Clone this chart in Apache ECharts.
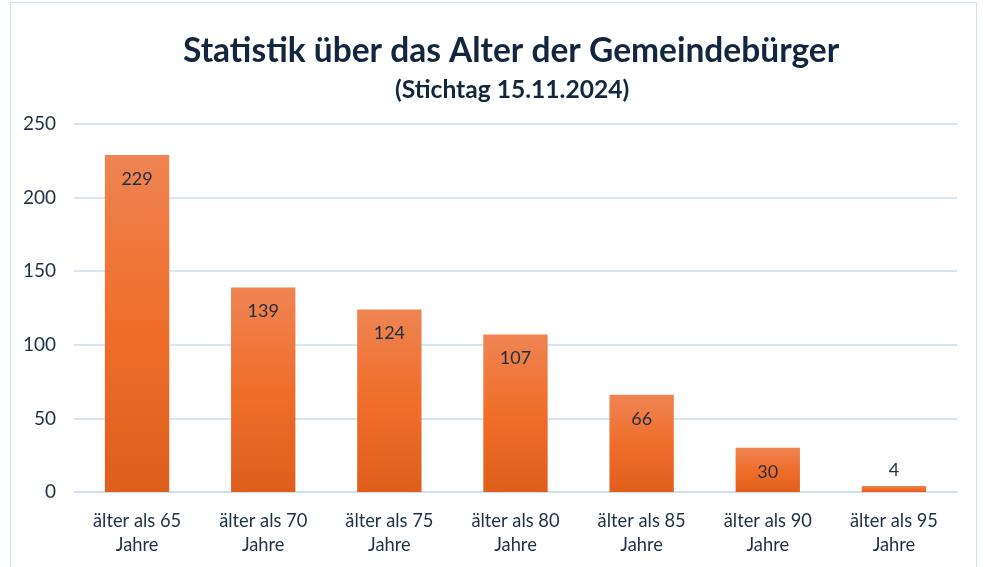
<!DOCTYPE html>
<html><head><meta charset="utf-8">
<script src="https://cdn.jsdelivr.net/npm/echarts@6/dist/echarts.min.js"></script>
<style>html,body{margin:0;padding:0;background:#fff}#c{width:983px;height:567px}
#frame{position:absolute;left:10px;top:2px;width:967px;height:580px;border:1.5px solid #cfe0f3;box-sizing:border-box;pointer-events:none}</style>
</head><body><div id="c"></div><div id="frame"></div>
<script>
const categories = ["älter als 65\nJahre","älter als 70\nJahre","älter als 75\nJahre","älter als 80\nJahre","älter als 85\nJahre","älter als 90\nJahre","älter als 95\nJahre"];
const values = [229, 139, 124, 107, 66, 30, 4];
const yTicks = [0, 50, 100, 150, 200, 250];

const font = 'Lato, "Open Sans", sans-serif';
const txt = '#1f2f44';
const chart = echarts.init(document.getElementById('c'));
chart.setOption({
  animation: false,
  title: [
    {text: 'Statistik über das Alter der Gemeindebürger', left: 178, top: 29,
     textStyle: {fontFamily: font, fontWeight: 'bold', fontSize: 33.5, color: '#13263f'}},
    {text: '(Stichtag 15.11.2024)', left: 390, top: 73,
     textStyle: {fontFamily: font, fontWeight: 'bold', fontSize: 24.6, color: '#13263f'}}
  ],
  grid: {left: 74, right: 26, top: 124, bottom: 75, containLabel: false},
  xAxis: {type: 'category', data: categories,
    axisLine: {lineStyle: {color: '#c9dcf0', width: 1.5}}, axisTick: {show: false},
    axisLabel: {fontFamily: font, fontSize: 18.3, color: txt, lineHeight: 24, margin: 17}},
  yAxis: {type: 'value', min: yTicks[0], max: yTicks[yTicks.length-1], interval: 50,
    axisLine: {show: false}, axisTick: {show: false},
    splitLine: {lineStyle: {color: '#c9dcf0', width: 1.5}},
    axisLabel: {fontFamily: font, fontSize: 19, color: txt, margin: 18}},
  series: [{
    type: 'bar', barWidth: '51%',
    data: values.map(v => v < 15 ? {value: v, label: {position: 'top', distance: 7}} : v),
    itemStyle: {color: new echarts.graphic.LinearGradient(0,0,0,1,[
      {offset: 0, color: '#ee8452'}, {offset: 0.5, color: '#f06e2a'}, {offset: 1, color: '#e05e1c'}])},
    label: {show: true, position: 'insideTop', distance: 15, fontFamily: font, fontSize: 18, color: txt}
  }]
});
</script></body></html>
